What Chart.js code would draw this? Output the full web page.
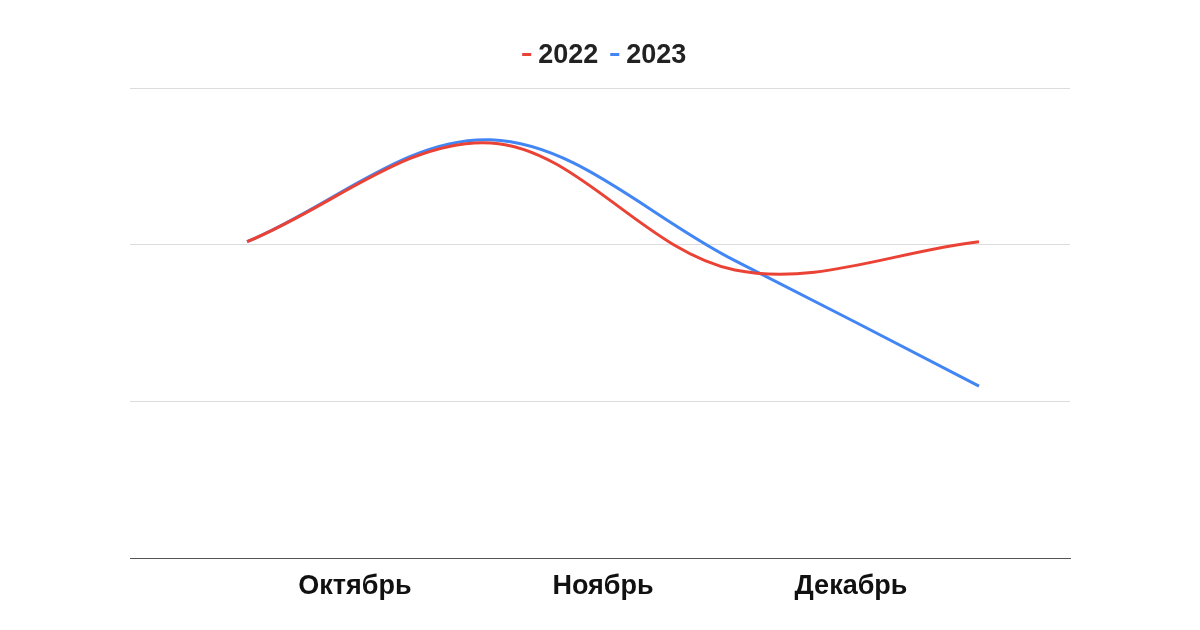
<!DOCTYPE html>
<html>
<head>
<meta charset="utf-8">
<script src="https://cdn.jsdelivr.net/npm/chart.js@4/dist/chart.umd.min.js"></script>
<style>
  html, body { margin: 0; padding: 0; background: #fff; }
  #wrap { width: 1200px; height: 630px; }
</style>
</head>
<body>
<div id="wrap"><canvas id="c" width="1200" height="630"></canvas></div>
<script>
// Month tick labels (placed at x = 1, 2, 3 on the linear x axis)
const monthLabels = ["Октябрь", "Ноябрь", "Декабрь"];
const monthTicks = [1, 2, 3];
// Sample positions on the month axis
const sampleX = [0.565, 1.548, 2.532, 3.516];
// Series values
const series2022 = [202, 265, 184, 202];
const series2023 = [202, 267, 190, 110];
const seriesNames = ["2022", "2023"];
const seriesColors = ["#ea4335", "#4285f4"];

const toPoints = (xs, ys) => xs.map((x, i) => ({ x: x, y: ys[i] }));

// Small dash legend marker (drawn just left of the label text)
function makeMarker(color) {
  const c = document.createElement('canvas');
  c.width = 20; c.height = 6;
  const g = c.getContext('2d');
  g.fillStyle = color;
  g.fillRect(8, 0, 9, 3);
  return c;
}

Chart.defaults.font.family = "'Liberation Sans', Arial, sans-serif";

const legendTweak = {
  id: 'legendTweak',
  beforeInit(chart) {
    const lg = chart.legend;
    const origFit = lg.fit;
    lg.fit = function () {
      origFit.call(this);
      this.height += 8.5;
    };
    const origDraw = lg.draw;
    lg.draw = function () {
      const ctx = this.ctx;
      ctx.save();
      ctx.translate(5, 0);
      origDraw.apply(this, arguments);
      ctx.restore();
    };
  }
};

new Chart(document.getElementById('c'), {
  type: 'line',
  data: {
    datasets: [
      {
        label: seriesNames[0],
        data: toPoints(sampleX, series2022),
        borderColor: seriesColors[0],
        backgroundColor: seriesColors[0],
        borderWidth: 3,
        pointRadius: 0,
        tension: 0.35
      },
      {
        label: seriesNames[1],
        data: toPoints(sampleX, series2023),
        borderColor: seriesColors[1],
        backgroundColor: seriesColors[1],
        borderWidth: 3,
        pointRadius: 0,
        tension: 0.35
      }
    ]
  },
  plugins: [legendTweak],
  options: {
    responsive: false,
    animation: false,
    layout: { padding: { left: 130, right: 130, top: 29, bottom: 15 } },
    plugins: {
      tooltip: { enabled: false },
      legend: {
        display: true,
        position: 'top',
        labels: {
          usePointStyle: true,
          boxWidth: 1,
          boxHeight: 3,
          padding: 13.5,
          color: '#222',
          font: { size: 27, weight: 'bold' },
          generateLabels: (chart) => chart.data.datasets.map((ds, i) => ({
            text: ds.label,
            fillStyle: ds.borderColor,
            strokeStyle: ds.borderColor,
            lineWidth: 0,
            pointStyle: makeMarker(ds.borderColor),
            fontColor: '#222',
            hidden: false,
            datasetIndex: i
          }))
        }
      }
    },
    scales: {
      x: {
        type: 'linear',
        min: 0.093,
        max: 3.883,
        afterBuildTicks: (axis) => { axis.ticks = monthTicks.map(v => ({ value: v })); },
        ticks: {
          autoSkip: false,
          maxRotation: 0,
          color: '#111',
          font: { size: 27, weight: 'bold' },
          padding: 12,
          callback: (v) => monthLabels[monthTicks.indexOf(v)] ?? ''
        },
        grid: { display: false, drawTicks: false },
        border: { display: true, color: '#555', width: 1 }
      },
      y: {
        min: 0,
        max: 300,
        ticks: { display: false, stepSize: 100 },
        grid: {
          color: (ctx) => ctx.tick.value === 0 ? '#555' : '#dcdcdc',
          drawTicks: false,
          lineWidth: 1
        },
        border: { display: false }
      }
    }
  }
});
</script>
</body>
</html>
